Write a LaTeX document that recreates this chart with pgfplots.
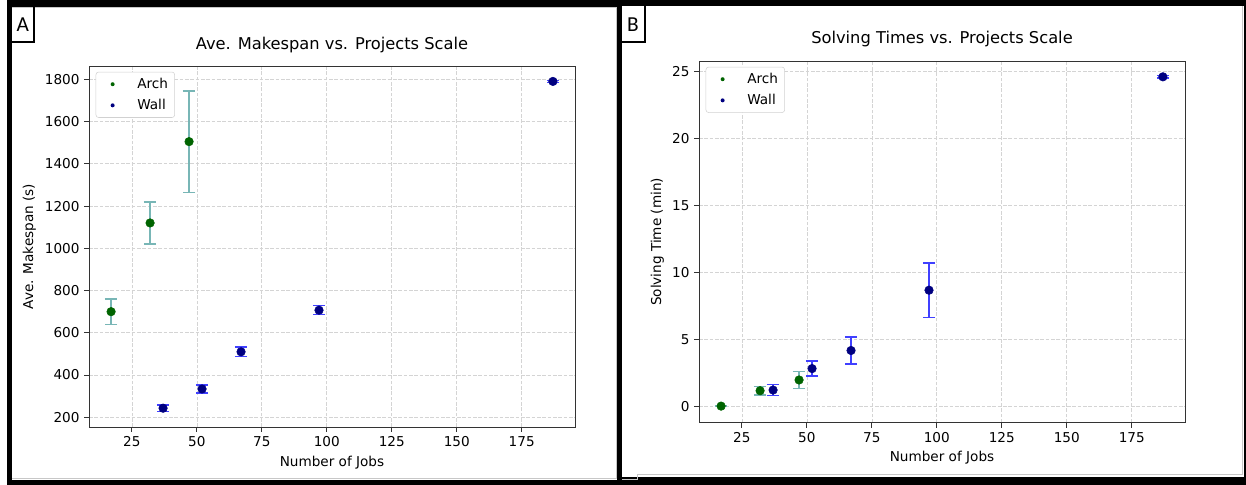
\documentclass[border=0pt]{standalone}
\usepackage{pgfplots}
\pgfplotsset{compat=1.18}
\usepackage{fontspec}
\setmainfont{DejaVu Sans}
\newfontfamily\panelfont{Carlito}

\definecolor{archgreen}{RGB}{0,100,0}
\definecolor{wallnavy}{RGB}{0,0,128}
\definecolor{archerr}{RGB}{120,182,182}
\definecolor{wallerr}{RGB}{64,64,255}
\definecolor{gridgray}{RGB}{212,212,212}

% Measured means and standard deviations: x = number of jobs, y = value, e = std
\pgfplotstableread{
x    y     e
17   700   60
32   1120  100
47   1505  240
}\archspan
\pgfplotstableread{
x    y     e
37   243   15
52   334   18
67   510   22
97   707   21
187  1790  5
}\wallspan
\pgfplotstableread{
x    y     e
17   0.05  0.03
32   1.20  0.33
47   2.00  0.62
}\archtime
\pgfplotstableread{
x    y     e
37   1.25  0.42
52   2.85  0.56
67   4.20  1.00
97   8.70  2.03
187  24.62 0.08
}\walltime

\pgfplotsset{
  panel/.style={
    scale only axis, width=364.5pt,
    xmin=8.5, xmax=195.5,
    xtick={25,50,...,175},
    tick pos=left, tick align=outside,
    major tick length=3.6pt,
    every tick/.style={black!80, line width=0.6pt},
    axis line style={black!80, line width=0.6pt},
    grid=major, grid style={gridgray, dash pattern=on 2.8pt off 1.2pt, line width=0.5pt},
    tick label style={font=\fontsize{10.2}{12}\selectfont},
    /pgf/number format/assume math mode=true,
    /pgf/number format/1000 sep={},
    label style={font=\fontsize{10.2}{12}\selectfont},
    title style={font=\fontsize{12.2}{14}\selectfont, at={(axis description cs:0.5,1)}, anchor=base, yshift=6.75pt},
    xlabel style={at={(axis description cs:0.5,0)}, anchor=base, yshift=-29.25pt},
    legend style={at={(axis description cs:0.0138,0.984)}, anchor=north west,
      draw=black!18, rounded corners=2pt, fill=white,
      font=\fontsize{10.2}{12}\selectfont,
      inner xsep=3pt, inner ysep=2.5pt, row sep=2.6pt},
    legend cell align=left,
  },
  archpts/.style={only marks, mark=*, mark size=3.2pt, color=archgreen,
    error bars/y dir=both, error bars/y explicit,
    error bars/error bar style={line width=1.1pt, color=archerr},
    error bars/error mark options={rotate=90, mark size=4.6pt, line width=1.1pt, color=archerr}},
  wallpts/.style={only marks, mark=*, mark size=3.2pt, color=wallnavy,
    error bars/y dir=both, error bars/y explicit,
    error bars/error bar style={line width=1.1pt, color=wallerr},
    error bars/error mark options={rotate=90, mark size=4.6pt, line width=1.1pt, color=wallerr}},
  dotkey/.style={legend image code/.code={%
    \path[draw=none, fill=none] (0pt,0pt) -- (26pt,0pt);
    \fill[draw=none] (9.5pt,0pt) circle (1.5pt);}},
}

\begin{document}
\begin{tikzpicture}
\useasboundingbox (0pt,0pt) rectangle (934.5pt,-363.75pt);
% frames of the two panels
\begin{scope}[x=0.75pt, y=-0.75pt]
  \fill[white] (0,0) rectangle (1246,485);
  \fill[black] (7,0) rectangle (1246,485);
  \fill[white] (12,7) rectangle (617,480);
  \draw[black!22, line width=0.5pt] (12,7.2) -- (616.5,7.2) -- (616.5,478.3) -- (12,478.3);
  \fill[white] (622,6) rectangle (1244,477);
  \draw[black!22, line width=0.5pt] (622,479) -- (637,479) -- (637,474) -- (1242,474) -- (1242,6);
  \draw[black, line width=1.5pt] (11,5) rectangle (34,42);
  \node[font=\panelfont\fontsize{16}{18}\selectfont] at (22.7,25) {A};
  \draw[black, line width=1.5pt] (621,5) rectangle (644.7,42);
  \node[font=\panelfont\fontsize{16}{18}\selectfont] at (632.8,25) {B};
\end{scope}

% A: average makespan
\begin{axis}[panel, at={(66.75pt,-49.5pt)}, anchor=north west,
  height=270.75pt,
  ymin=154, ymax=1863, ytick={200,400,...,1800},
  title={Ave. Makespan vs. Projects Scale},
  xlabel={Number of Jobs}, ylabel={Ave. Makespan (s)},
  ylabel style={at={(axis description cs:-0.115,0.5)}, anchor=base}]
\addplot[archpts, forget plot] table[x=x, y=y, y error=e] {\archspan};
\addplot[wallpts, forget plot] table[x=x, y=y, y error=e] {\wallspan};
\addlegendimage{archgreen, dotkey}
\addlegendentry{Arch}
\addlegendimage{wallnavy, dotkey}
\addlegendentry{Wall}
\end{axis}

% B: solving times
\begin{axis}[panel, at={(524.25pt,-45.75pt)}, anchor=north west,
  height=271.3pt,
  ymin=-1.19, ymax=25.8, ytick={0,5,...,25},
  title={Solving Times vs. Projects Scale},
  xlabel={Number of Jobs}, ylabel={Solving Time (min)},
  ylabel style={at={(axis description cs:-0.078,0.5)}, anchor=base}]
\addplot[archpts, forget plot] table[x=x, y=y, y error=e] {\archtime};
\addplot[wallpts, forget plot] table[x=x, y=y, y error=e] {\walltime};
\addlegendimage{archgreen, dotkey}
\addlegendentry{Arch}
\addlegendimage{wallnavy, dotkey}
\addlegendentry{Wall}
\end{axis}
\end{tikzpicture}
\end{document}
